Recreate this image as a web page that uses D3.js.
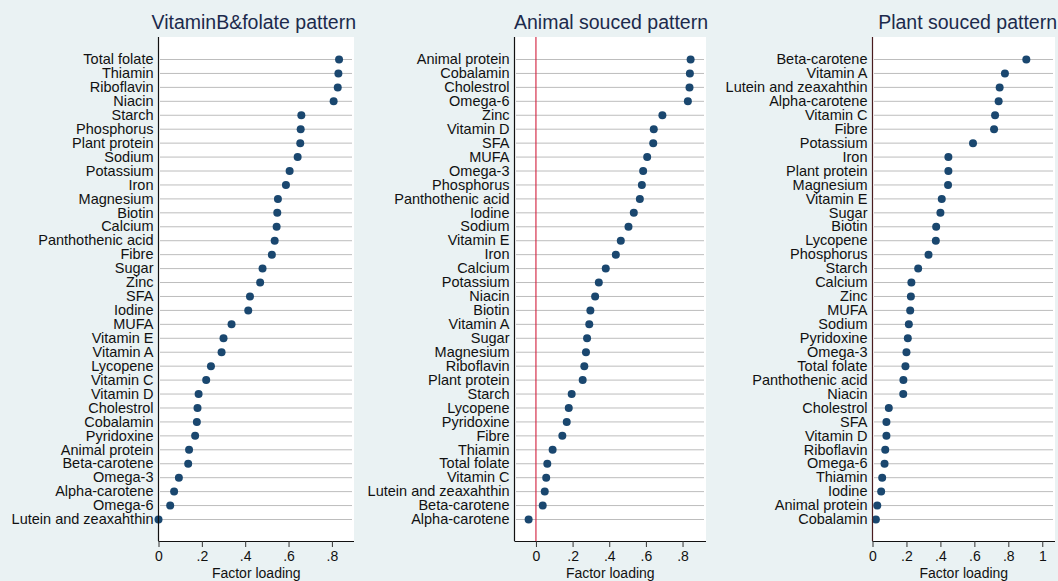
<!DOCTYPE html>
<html>
<head>
<meta charset="utf-8">
<script src="https://cdn.jsdelivr.net/npm/d3@7/dist/d3.min.js"></script>
<style>
html,body{margin:0;padding:0;background:#eaf2f3;}
svg{display:block;font-family:"Liberation Sans",Arial,Helvetica,sans-serif;}
</style>
</head>
<body>
<svg id="chart" width="1058" height="581"></svg>
<script>
// ---- Data ----
const titles = ["VitaminB&folate pattern", "Animal souced pattern", "Plant souced pattern"];

const vitBCategories = ["Total folate","Thiamin","Riboflavin","Niacin","Starch","Phosphorus","Plant protein","Sodium","Potassium","Iron","Magnesium","Biotin","Calcium","Panthothenic acid","Fibre","Sugar","Zinc","SFA","Iodine","MUFA","Vitamin E","Vitamin A","Lycopene","Vitamin C","Vitamin D","Cholestrol","Cobalamin","Pyridoxine","Animal protein","Beta-carotene","Omega-3","Alpha-carotene","Omega-6","Lutein and zeaxahthin"];
const vitBValues = [0.833,0.830,0.827,0.808,0.659,0.656,0.654,0.642,0.605,0.588,0.551,0.548,0.545,0.536,0.523,0.480,0.469,0.422,0.414,0.337,0.300,0.291,0.242,0.220,0.185,0.180,0.177,0.169,0.141,0.137,0.094,0.072,0.054,0.000];

const animalCategories = ["Animal protein","Cobalamin","Cholestrol","Omega-6","Zinc","Vitamin D","SFA","MUFA","Omega-3","Phosphorus","Panthothenic acid","Iodine","Sodium","Vitamin E","Iron","Calcium","Potassium","Niacin","Biotin","Vitamin A","Sugar","Magnesium","Riboflavin","Plant protein","Starch","Lycopene","Pyridoxine","Fibre","Thiamin","Total folate","Vitamin C","Lutein and zeaxahthin","Beta-carotene","Alpha-carotene"];
const animalValues = [0.844,0.840,0.838,0.829,0.690,0.643,0.640,0.607,0.585,0.578,0.567,0.534,0.505,0.463,0.436,0.381,0.343,0.323,0.297,0.291,0.279,0.273,0.264,0.255,0.195,0.179,0.168,0.144,0.091,0.062,0.056,0.048,0.037,-0.040];

const plantCategories = ["Beta-carotene","Vitamin A","Lutein and zeaxahthin","Alpha-carotene","Vitamin C","Fibre","Potassium","Iron","Plant protein","Magnesium","Vitamin E","Sugar","Biotin","Lycopene","Phosphorus","Starch","Calcium","Zinc","MUFA","Sodium","Pyridoxine","Omega-3","Total folate","Panthothenic acid","Niacin","Cholestrol","SFA","Vitamin D","Riboflavin","Omega-6","Thiamin","Iodine","Animal protein","Cobalamin"];
const plantValues = [0.906,0.780,0.749,0.743,0.722,0.716,0.592,0.447,0.447,0.445,0.408,0.400,0.375,0.373,0.330,0.269,0.229,0.226,0.222,0.214,0.208,0.200,0.194,0.182,0.181,0.096,0.082,0.082,0.075,0.071,0.057,0.051,0.028,0.020];

const ticksA = [0, 0.2, 0.4, 0.6, 0.8];
const ticksB = [0, 0.2, 0.4, 0.6, 0.8];
const ticksC = [0, 0.2, 0.4, 0.6, 0.8, 1];
const xTitle = "Factor loading";

// ---- Layout ----
const panels = [
  {title: titles[0], cats: vitBCategories, vals: vitBValues, ticks: ticksA, domain: [0, 0.902], left: 158.5, right: 354, refLine: false, axisColor: "#111"},
  {title: titles[1], cats: animalCategories, vals: animalValues, ticks: ticksB, domain: [-0.117, 0.928], left: 514.5, right: 706, refLine: true, axisColor: "#111"},
  {title: titles[2], cats: plantCategories, vals: plantValues, ticks: ticksC, domain: [0, 1.075], left: 872.5, right: 1055, refLine: false, axisColor: "#4a1c1f"}
];
const plotTop = 37, plotBottom = 541;
const fmt = d => d === 0 ? "0" : (d === 1 ? "1" : d3.format(".1f")(d).replace(/^0/, ""));

const svg = d3.select("#chart");
svg.append("rect").attr("width", 1058).attr("height", 581).attr("fill", "#eaf2f3");

panels.forEach(p => {
  const g = svg.append("g");
  const x = d3.scaleLinear().domain(p.domain).range([p.left, p.right]);
  const y = d3.scalePoint().domain(p.cats).range([59, 519]);

  g.append("rect").attr("x", p.left).attr("y", plotTop).attr("width", p.right - p.left).attr("height", plotBottom - plotTop).attr("fill", "#fff");

  // dotted row lines
  g.selectAll("line.row").data(p.cats).join("line").attr("class", "row")
    .attr("x1", p.left + 2).attr("x2", p.right - 2)
    .attr("y1", d => y(d) + 0.5).attr("y2", d => y(d) + 0.5)
    .attr("stroke", "#7a7a7a").attr("stroke-width", 1).attr("stroke-dasharray", "1,1");

  if (p.refLine) {
    g.append("line").attr("x1", x(0)).attr("x2", x(0)).attr("y1", plotTop).attr("y2", plotBottom)
      .attr("stroke", "#d21f3c").attr("stroke-width", 1.1);
  }

  // dots
  g.selectAll("circle").data(p.vals).join("circle")
    .attr("cx", d => x(d)).attr("cy", (d, i) => y(p.cats[i]) + 0.5).attr("r", 4)
    .attr("fill", "#1a476f");

  // category labels
  g.selectAll("text.cat").data(p.cats).join("text").attr("class", "cat")
    .attr("x", p.left - 5).attr("y", d => y(d) + 5.2)
    .attr("text-anchor", "end").attr("font-size", "14.5px").attr("fill", "#111")
    .text(d => d);

  // left axis line
  g.append("line").attr("x1", p.left).attr("x2", p.left).attr("y1", plotTop).attr("y2", plotBottom)
    .attr("stroke", p.axisColor).attr("stroke-width", 1.2);

  // bottom axis
  const ax = d3.axisBottom(x).tickValues(p.ticks).tickFormat(fmt).tickSize(6).tickPadding(4.5);
  const axg = g.append("g").attr("transform", `translate(0,${plotBottom})`).call(ax);
  axg.select(".domain").attr("d", `M${p.left},0.5H${p.right}`).attr("stroke", "#111").attr("stroke-width", 1);
  axg.selectAll(".tick line").attr("stroke", "#333");
  axg.selectAll(".tick text").attr("font-size", "14px").attr("fill", "#111")
    .attr("font-family", "Liberation Sans, Arial, sans-serif");

  g.append("text").attr("x", (p.left + p.right) / 2).attr("y", 578)
    .attr("text-anchor", "middle").attr("font-size", "14px").attr("fill", "#111").text(xTitle);

  g.append("text").attr("x", p.right + 2).attr("y", 28.5)
    .attr("text-anchor", "end").attr("font-size", "19.5px").attr("fill", "#1c2a4c").text(p.title);
});
</script>
</body>
</html>
